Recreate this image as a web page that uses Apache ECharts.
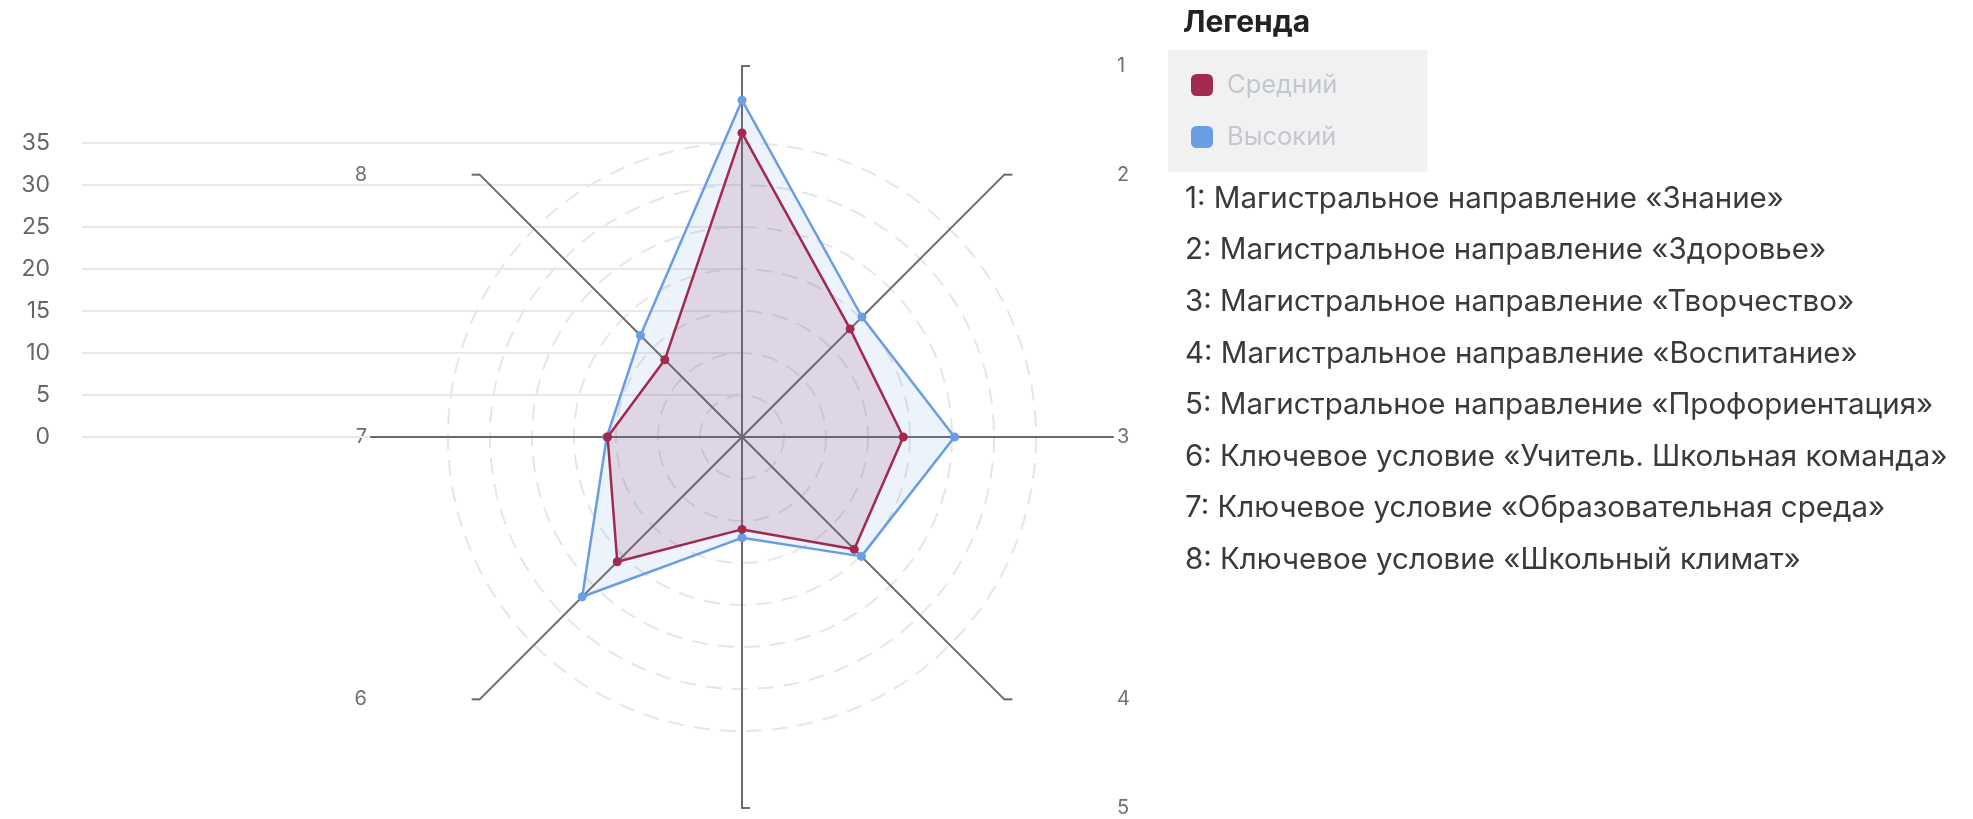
<!DOCTYPE html>
<html>
<head>
<meta charset="utf-8">
<title>Радар</title>
<style>
  html, body { margin: 0; padding: 0; background: #fff; }
  #chart { width: 1973px; height: 819px; }
</style>
<script src="https://cdn.jsdelivr.net/npm/echarts@6/dist/echarts.min.js"></script>
</head>
<body>
<div id="chart"></div>
<script>
// axis numbers (clockwise from the top) and their full names
const axisNumbers = ['1', '2', '3', '4', '5', '6', '7', '8'];
const axisNames = [
    'Магистральное направление «Знание»',
    'Магистральное направление «Здоровье»',
    'Магистральное направление «Творчество»',
    'Магистральное направление «Воспитание»',
    'Магистральное направление «Профориентация»',
    'Ключевое условие «Учитель. Школьная команда»',
    'Ключевое условие «Образовательная среда»',
    'Ключевое условие «Школьный климат»'
];
const seriesNames = ['Средний', 'Высокий'];
const mediumValues = [36.2, 18.2, 19.2, 18.9, 11.0, 21.0, 16.0, 13.0];
const highValues = [40.1, 20.2, 25.3, 20.1, 12.0, 26.9, 16.1, 17.1];
const yTicks = [0, 5, 10, 15, 20, 25, 30, 35];

const colors = ['#a3294f', '#6a9de3'];
const font = 'Inter, "Noto Sans", sans-serif';
const cx = 742, cy = 437;
const ringRadius = 294, axisRadius = 371;

// echarts lays radar indicators out counter-clockwise, the picture runs clockwise
const order = [0, 7, 6, 5, 4, 3, 2, 1];
const reorder = arr => order.map(i => arr[i]);

const chart = echarts.init(document.getElementById('chart'));

const labelGraphics = axisNumbers.map(function (num, k) {
    const a = Math.PI / 2 - k * Math.PI / 4;
    const right = Math.cos(a) > -0.01;
    return {
        type: 'text',
        x: right ? cx + axisRadius + 4 : cx - axisRadius - 4,
        y: cy - axisRadius * Math.sin(a),
        style: {
            text: num, fill: '#707070', font: '20px ' + font,
            align: right ? 'left' : 'right', verticalAlign: 'middle'
        }
    };
});

// short end caps on the non-horizontal axis ends
const capGraphics = axisNumbers.filter((n, k) => k % 4 !== 2).map(function (num) {
    const k = axisNumbers.indexOf(num);
    const a = Math.PI / 2 - k * Math.PI / 4;
    const ex = cx + axisRadius * Math.cos(a);
    const ey = cy - axisRadius * Math.sin(a);
    const dir = Math.cos(a) > -0.01 ? 1 : -1;
    return {
        type: 'line',
        shape: { x1: ex, y1: ey, x2: ex + dir * 8, y2: ey },
        style: { stroke: '#6a6a6a', lineWidth: 2 }
    };
});

const listGraphics = axisNames.map(function (name, i) {
    return {
        type: 'text',
        x: 1185,
        y: 199 + i * 51.6,
        style: {
            text: axisNumbers[i] + ': ' + name, fill: '#3a3a3a',
            font: '29.5px ' + font, verticalAlign: 'middle'
        }
    };
});

const option = {
    backgroundColor: '#fff',
    animation: false,
    color: colors,
    grid: { left: 82, top: cy - ringRadius, width: cx - 82, height: ringRadius },
    xAxis: { type: 'value', show: false },
    yAxis: {
        type: 'value',
        min: yTicks[0],
        max: yTicks[yTicks.length - 1],
        interval: yTicks[1] - yTicks[0],
        axisLine: { show: false },
        axisTick: { show: false },
        axisLabel: { color: '#666', fontSize: 23, fontFamily: font, margin: 32 },
        splitLine: { lineStyle: { color: '#e8e8e8', width: 2 } }
    },
    radar: [
        {
            center: [cx, cy],
            radius: ringRadius,
            shape: 'circle',
            splitNumber: 7,
            indicator: reorder(axisNumbers).map(n => ({ name: n, min: 0, max: 35 })),
            axisName: { show: false },
            axisLine: { show: false },
            splitArea: { show: false },
            splitLine: { lineStyle: { color: '#e6e6e6', width: 2, type: [16, 10] } }
        },
        {
            center: [cx, cy],
            radius: axisRadius,
            shape: 'circle',
            indicator: reorder(axisNumbers).map(n => ({ name: n, min: 0, max: 1 })),
            axisName: { show: false },
            axisLine: { lineStyle: { color: '#6a6a6a', width: 2 } },
            splitArea: { show: false },
            splitLine: { show: false }
        }
    ],
    legend: {
        orient: 'vertical',
        left: 1168,
        top: 50,
        data: seriesNames,
        icon: 'roundRect',
        itemWidth: 22,
        itemHeight: 22,
        itemGap: 26,
        backgroundColor: '#f1f1f1',
        padding: [22, 90, 22, 23],
        textStyle: { color: '#c3c7d1', fontSize: 25.5, fontFamily: font, padding: [0, 0, 0, 9] }
    },
    series: [
        {
            name: seriesNames[0],
            type: 'radar',
            radarIndex: 0,
            symbol: 'circle',
            symbolSize: 9,
            lineStyle: { width: 2.5, color: colors[0] },
            itemStyle: { color: colors[0] },
            areaStyle: { color: 'rgba(150,45,100,0.2)' },
            z: 3,
            data: [{ name: seriesNames[0], value: reorder(mediumValues) }]
        },
        {
            name: seriesNames[1],
            type: 'radar',
            radarIndex: 0,
            symbol: 'circle',
            symbolSize: 9,
            lineStyle: { width: 2.5, color: colors[1] },
            itemStyle: { color: colors[1] },
            areaStyle: { color: 'rgba(106,157,227,0.18)' },
            z: 2,
            data: [{ name: seriesNames[1], value: reorder(highValues) }]
        }
    ],
    graphic: [
        {
            type: 'text', x: 1183, y: 23,
            style: { text: 'Легенда', fill: '#222', font: 'bold 30px ' + font, verticalAlign: 'middle' }
        }
    ].concat(capGraphics, labelGraphics, listGraphics)
};

chart.setOption(option);
</script>
</body>
</html>
